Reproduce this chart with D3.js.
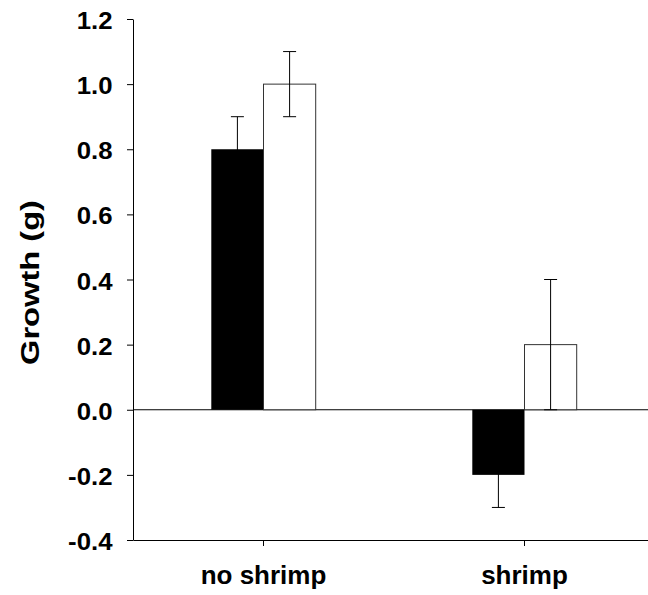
<!DOCTYPE html>
<html>
<head>
<meta charset="utf-8">
<script src="https://cdn.jsdelivr.net/npm/d3@7"></script>
<style>
  body { margin: 0; background: #fff; }
  svg text { font-family: "Liberation Sans", Arial, sans-serif; font-weight: bold; fill: #000; }
</style>
</head>
<body>
<div id="chart"></div>
<script>
// data
var categories = ["no shrimp", "shrimp"];
var series = ["dark", "light"];
var growth = [[0.8, 1.0], [-0.2, 0.2]];   // [category][series]
var errors = [[0.1, 0.1], [0.1, 0.2]];
var yTicks = [-0.4, -0.2, 0.0, 0.2, 0.4, 0.6, 0.8, 1.0, 1.2];
var fills = ["#000000", "#ffffff"];

var width = 648;
var height = 595;
// plot edges (window.top is read-only, so no "top" here)
var plotLeft = 133, plotRight = 655, plotTop = 19, plotBottom = 540;

var svg = d3.select("#chart")
    .append("svg")
    .attr("width", width)
    .attr("height", height);

var x = d3.scaleBand()
    .domain(categories)
    .range([plotLeft, plotRight]);

// the pair of bars takes 40% of each band
var inner = d3.scaleBand()
    .domain(series)
    .range([x.bandwidth() * 0.3, x.bandwidth() * 0.7]);

var y = d3.scaleLinear()
    .domain([-0.4, 1.2])
    .range([plotBottom, plotTop]);

// zero line
svg.append("line")
    .attr("x1", plotLeft).attr("x2", plotRight)
    .attr("y1", y(0)).attr("y2", y(0))
    .attr("stroke", "#000");

// bars
var rows = [];
categories.forEach(function(c, i) {
  series.forEach(function(s, j) {
    rows.push({cat: c, ser: s, val: growth[i][j], err: errors[i][j], fill: fills[j]});
  });
});

svg.selectAll("rect.bar")
    .data(rows)
    .enter().append("rect")
    .attr("class", "bar")
    .attr("x", function(d) { return x(d.cat) + inner(d.ser); })
    .attr("width", inner.bandwidth())
    .attr("y", function(d) { return y(Math.max(0, d.val)); })
    .attr("height", function(d) { return Math.abs(y(d.val) - y(0)); })
    .attr("fill", function(d) { return d.fill; })
    .attr("stroke", function(d) { return d.fill == "#000000" ? "none" : "#333"; })
    .attr("stroke-width", 1);

// error bars, drawn on top
var capW = 13;
var eb = svg.selectAll("g.err")
    .data(rows)
    .enter().append("g")
    .attr("class", "err")
    .attr("stroke", "#000")
    .attr("stroke-width", 1);

function cx(d) { return x(d.cat) + inner(d.ser) + inner.bandwidth() / 2; }

eb.append("line")
    .attr("x1", cx).attr("x2", cx)
    .attr("y1", function(d) { return y(d.val + d.err); })
    .attr("y2", function(d) { return y(d.val - d.err); });
eb.append("line")
    .attr("x1", function(d) { return cx(d) - capW / 2; })
    .attr("x2", function(d) { return cx(d) + capW / 2; })
    .attr("y1", function(d) { return y(d.val + d.err); })
    .attr("y2", function(d) { return y(d.val + d.err); });
eb.append("line")
    .attr("x1", function(d) { return cx(d) - capW / 2; })
    .attr("x2", function(d) { return cx(d) + capW / 2; })
    .attr("y1", function(d) { return y(d.val - d.err); })
    .attr("y2", function(d) { return y(d.val - d.err); });

// y axis, plain hyphen for the minus sign
var fmt = d3.format(".1f");
var yAxis = svg.append("g")
    .attr("transform", "translate(" + plotLeft + ",0)")
    .call(d3.axisLeft(y).tickValues(yTicks)
      .tickFormat(function(d) { return fmt(d).replace("\u2212", "-"); })
      .tickSize(6).tickSizeOuter(0).tickPadding(14.5));
yAxis.selectAll("text")
    .attr("dy", null)
    .attr("y", 9.5)
    .style("font-size", "23px")
    .each(function() {
      var len = this.getComputedTextLength();
      d3.select(this).attr("textLength", len * 1.12).attr("lengthAdjust", "spacingAndGlyphs");
    });

// x axis
var xAxis = svg.append("g")
    .attr("transform", "translate(0," + plotBottom + ")")
    .call(d3.axisBottom(x).tickSize(6).tickSizeOuter(0).tickPadding(19.5));
xAxis.selectAll("text")
    .style("font-size", "26px");

svg.selectAll(".domain, .tick line").attr("stroke", "#000");
svg.selectAll(".tick text").attr("font-family", null);

// y axis title
svg.append("text")
    .attr("transform", "translate(38.6,282.5) rotate(-90)")
    .style("text-anchor", "middle")
    .style("font-size", "25.5px")
    .attr("textLength", 165)
    .attr("lengthAdjust", "spacingAndGlyphs")
    .text("Growth (g)");
</script>
</body>
</html>
